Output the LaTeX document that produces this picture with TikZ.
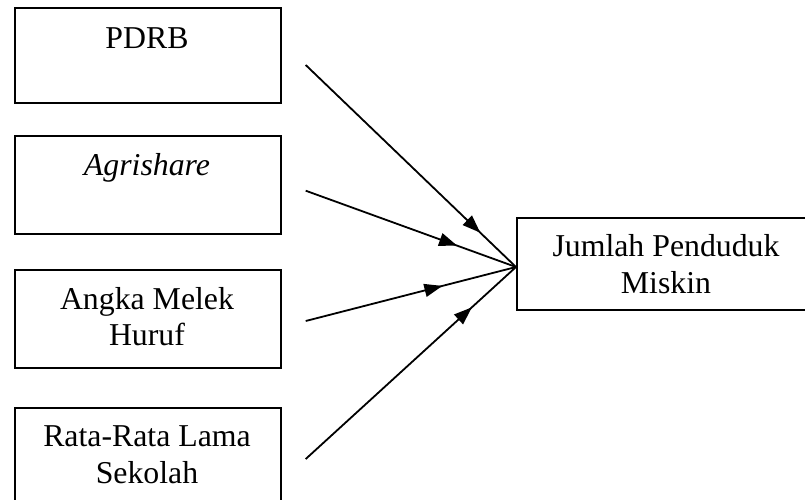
\documentclass[tikz,border=0pt]{standalone}
\usepackage{fontspec}
\setmainfont{Liberation Serif}
\usetikzlibrary{arrows.meta,decorations.markings}
\tikzset{
  box/.style={draw,line width=2.2pt,rectangle,minimum width=266pt,inner sep=0pt},
  lbl/.style={font=\fontsize{31.8pt}{36.5pt}\selectfont,align=center,inner sep=0pt,anchor=base},
  conn/.style={line width=1.8pt},
  tipat/.style={postaction={decorate},decoration={markings,mark=at position #1 with {\arrow{Triangle[length=18pt,width=13pt]}}}}
}
\begin{document}
\begin{tikzpicture}[x=1pt,y=-1pt]
\useasboundingbox (0,0) rectangle (805,499);
% left boxes
\node[box,minimum height=95pt,anchor=north west] (b1) at (14,7) {};
\node[box,minimum height=98pt,anchor=north west] (b2) at (14,135) {};
\node[box,minimum height=98pt,anchor=north west] (b3) at (14,269) {};
\node[box,minimum height=120pt,anchor=north west] (b4) at (14,407) {};
\node[box,minimum width=320pt,minimum height=92pt,anchor=north west] (b5) at (516,217) {};
% labels
\node[lbl] (t1) at (147,48) {PDRB};
\node[lbl] (t2) at (147,175) {\textit{Agrishare}};
\node[lbl] (t3) at (147,345.5) {Angka Melek\\Huruf};
\node[lbl] (t4) at (147,483) {Rata-Rata Lama\\Sekolah};
\node[lbl] (t5) at (666,293) {Jumlah Penduduk\\Miskin};
% connectors
\coordinate (m) at (516,267);
\coordinate (s1) at (305.7,65);
\coordinate (s2) at (305.7,190.7);
\coordinate (s3) at (305.7,321);
\coordinate (s4) at (305.7,459);
\draw[conn,tipat=0.83] (s1) -- (m);
\draw[conn,tipat=0.72] (s2) -- (m);
\draw[conn,tipat=0.65] (s3) -- (m);
\draw[conn,tipat=0.79] (s4) -- (m);
\end{tikzpicture}
\end{document}
